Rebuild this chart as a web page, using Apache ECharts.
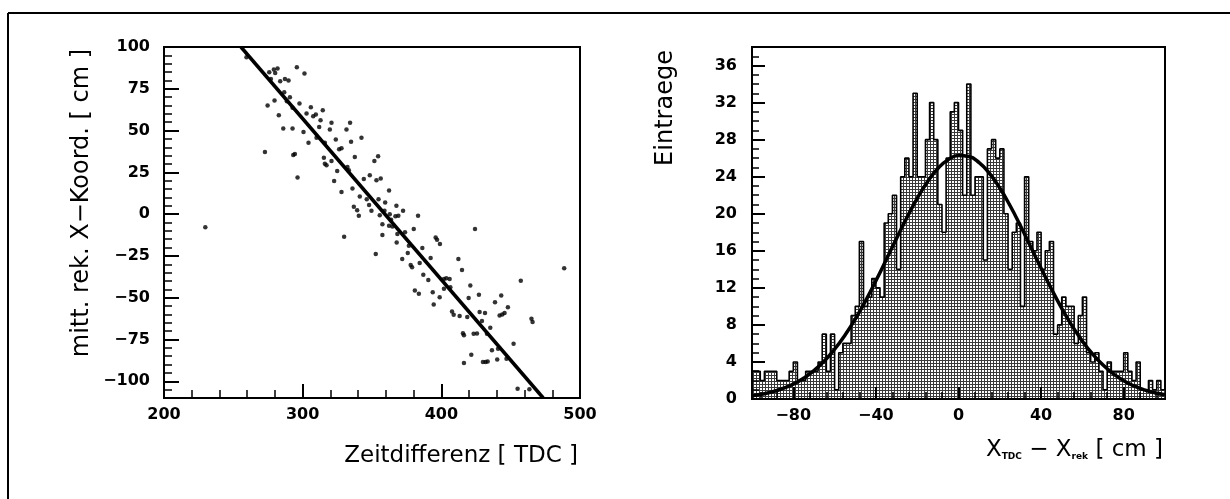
<!DOCTYPE html>
<html><head><meta charset="utf-8">
<script src="https://cdn.jsdelivr.net/npm/echarts@6/dist/echarts.min.js"></script>
<style>html,body{margin:0;padding:0;background:#fff}#c{width:1230px;height:499px}</style>
</head><body><div id="c"></div>
<script>
// ---------- Left panel: scatter of mean reconstructed X vs TDC time difference ----------
const scatterX = [259.5,275.9,279.2,281.9,280.2,277.1,283.8,287.2,289.8,295.8,301.3,286.7,290.8,288.6,279.7,274.7,292.7,297.7,305.9,302.8,307.6,309.5,314.5,312.9,320.8,334.2,282.8,286.0,292.7,311.9,319.6,331.6,300.6,304.2,310.0,316.0,323.9,334.9,342.4,272.8,293.2,294.4,315.3,320.8,326.3,328.0,316.0,317.2,324.9,332.3,337.6,351.7,354.4,296.3,322.7,328.0,333.3,335.9,344.1,348.4,353.2,356.3,362.3,341.2,346.2,336.9,339.3,340.5,347.9,349.6,355.6,359.0,362.8,366.9,367.6,229.8,357.5,362.3,364.7,
329.9,352.7,357.5,367.8,368.3,373.8,375.8,377.9,378.9,380.1,383.2,386.3,384.4,387.0,390.6,392.3,393.8,394.5,395.9,396.9,399.0,398.8,401.9,401.9,403.6,406.0,406.5,408.9,407.7,412.3,414.9,413.2,416.3,415.6,418.7,419.7,420.9,424.3,423.3,425.7,427.1,427.6,429.3,431.5,432.9,435.3,436.5,438.7,440.3,442.0,443.2,443.9,445.6,448.0,430.0,431.9,433.4,421.6,416.3,
457.3,452.1,465.0,465.8,488.6,455.0,463.5,447.0,440.9,354.7,359.5,363.8,372.4,369.0,376.6,371.8,380.9,383.8];
const scatterY = [93.8,84.9,86.5,87.1,84.5,80.9,79.5,80.9,79.9,87.9,84.1,73.0,70.0,67.6,68.0,65.0,63.6,66.2,64.0,60.2,58.6,59.6,62.2,56.2,54.7,54.7,59.2,51.3,51.3,52.1,50.7,50.7,49.1,42.7,45.7,42.7,44.7,43.3,45.7,37.2,35.4,36.0,33.8,31.8,38.8,39.4,30.2,29.2,25.8,28.2,34.2,31.8,34.6,21.9,19.9,13.3,26.2,15.3,21.1,23.3,20.3,21.3,14.1,10.5,8.9,4.4,2.4,-1.0,5.4,2.0,-0.6,2.0,0.0,-1.2,5.0,-7.8,-6.0,-7.0,-7.4,
-13.5,-23.9,-12.5,-16.9,-11.9,-10.9,-23.3,-30.4,-31.8,-8.9,-1.0,-20.3,-29.2,-36.2,-39.4,-26.2,-46.7,-54.1,-13.9,-15.3,-17.9,-49.7,-38.8,-44.7,-38.4,-38.8,-43.7,-60.2,-58.2,-26.8,-33.4,-61.0,-72.5,-71.2,-61.6,-50.1,-42.7,-8.9,-71.6,-71.4,-48.3,-58.6,-64.0,-59.2,-71.6,-68.0,-81.5,-52.7,-86.9,-60.6,-48.7,-60.0,-59.2,-55.7,-88.5,-88.5,-88.1,-84.1,-89.1,
-39.8,-77.5,-62.6,-64.6,-32.4,-104.4,-104.8,-86.5,-80.5,8.9,7.0,-3.4,2.0,-1.0,-18.9,-26.8,-45.7,-47.7];
const fitLineX = [255.5, 473.5];
const fitLineY = [100, -110];
const leftXTicks = [200, 300, 400, 500];
const leftYTicks = [-100, -75, -50, -25, 0, 25, 50, 75, 100];

// ---------- Right panel: histogram of X_TDC - X_rek ----------
const histStart = -100;
const histBinWidth = 2;
const histCounts = [3,3,2,3,3,3,2,2,2,3,4,2,2,3,3,3,4,7,3,7,1,5,6,6,9,10,17,10,11,13,12,11,19,20,22,14,24,26,24,33,24,24,28,32,28,21,18,26,31,32,29,22,34,22,24,24,15,27,28,26,27,20,14,18,19,10,24,17,16,18,14,16,17,7,8,11,10,10,6,9,11,5,4,5,3,1,4,3,3,3,5,3,2,4,1,1,2,1,2,1];
const gaussX = [-100,-95,-90,-85,-80,-75,-70,-65,-60,-55,-50,-45,-40,-35,-30,-25,-20,-15,-10,-5,0,5,10,15,20,25,30,35,40,45,50,55,60,65,70,75,80,85,90,95,100];
const gaussY = [0.35,0.53,0.78,1.14,1.61,2.25,3.07,4.10,5.37,6.88,8.63,10.6,12.76,15.03,17.34,19.58,21.66,23.46,24.88,25.84,26.28,26.17,25.52,24.36,22.78,20.86,18.70,16.41,14.11,11.88,9.79,7.90,6.25,4.83,3.66,2.72,1.98,1.41,0.98,0.67,0.45];
const rightXTicks = [-80, -40, 0, 40, 80];
const rightXMinorTicks = [-96,-88,-72,-64,-56,-48,-32,-24,-16,-8,8,16,24,32,48,56,64,72,88,96];
const rightYTicks = [0, 4, 8, 12, 16, 20, 24, 28, 32, 36];

// ---------- build ----------
const scatterData = scatterX.map((x, i) => [x, scatterY[i]]);
const fitLineData = fitLineX.map((x, i) => [x, fitLineY[i]]);
const histData = histCounts.map((c, i) => [histStart + i * histBinWidth, c]);
histData.push([histStart + histCounts.length * histBinWidth, histCounts[histCounts.length - 1]]);
const gaussData = gaussX.map((x, i) => [x, gaussY[i]]);

// stipple pattern for the histogram fill
const pat = document.createElement('canvas');
pat.width = 3; pat.height = 3;
const pctx = pat.getContext('2d');
pctx.fillStyle = '#fff'; pctx.fillRect(0, 0, 3, 3);
pctx.fillStyle = '#3a3a3a';
pctx.fillRect(0, 0, 3, 1);
pctx.fillRect(0, 0, 1, 3);

const minus = v => String(v).replace('-', '\u2212');
const tickFont = { color: '#000', fontFamily: 'DejaVu Sans', fontWeight: 'bold', fontSize: 16 };
const titleFont = 'DejaVu Sans';

function majorAxis(grid, pos, min, max, ticks, len, labelMargin) {
  return {
    type: 'value', gridIndex: grid, position: pos, min: min, max: max, z: 10,
    axisLine: { show: true, onZero: false, lineStyle: { color: '#000', width: 2 } },
    axisTick: { show: true, inside: true, length: len, customValues: ticks, lineStyle: { color: '#000', width: 2 } },
    axisLabel: Object.assign({ show: true, customValues: ticks, margin: labelMargin, formatter: minus }, tickFont),
    splitLine: { show: false }
  };
}
function minorAxis(grid, pos, min, max, opts, len) {
  return Object.assign({
    type: 'value', gridIndex: grid, position: pos, min: min, max: max, z: 10,
    axisLine: { show: false, onZero: false },
    axisTick: Object.assign({ show: true, inside: true, length: len, lineStyle: { color: '#000', width: 1.5 } }, opts.tick || {}),
    axisLabel: { show: false },
    splitLine: { show: false }
  }, opts.axis || {});
}

const chart = echarts.init(document.getElementById('c'), null, { renderer: 'canvas' });
chart.setOption({
  animation: false,
  backgroundColor: '#fff',
  grid: [
    { left: 164, top: 47, width: 416, height: 351, show: true, borderColor: '#000', borderWidth: 2, backgroundColor: 'transparent' },
    { left: 752, top: 47, width: 413, height: 352, show: true, borderColor: '#000', borderWidth: 2, backgroundColor: 'transparent' }
  ],
  xAxis: [
    majorAxis(0, 'bottom', 200, 500, leftXTicks, 14, 9),
    minorAxis(0, 'bottom', 200, 500, { axis: { interval: 20 } }, 8),
    majorAxis(1, 'bottom', -100, 100, rightXTicks, 12, 9),
    minorAxis(1, 'bottom', -100, 100, { tick: { customValues: rightXMinorTicks } }, 7)
  ],
  yAxis: [
    majorAxis(0, 'left', -110, 100, leftYTicks, 15, 14),
    minorAxis(0, 'left', -110, 100, { axis: { interval: 5 } }, 8),
    majorAxis(1, 'left', 0, 38, rightYTicks, 13, 15),
    minorAxis(1, 'left', 0, 38, { axis: { interval: 1 } }, 7)
  ],
  series: [
    { type: 'scatter', xAxisIndex: 0, yAxisIndex: 0, data: scatterData, symbol: 'circle', symbolSize: 4.5,
      itemStyle: { color: '#000' }, z: 3 },
    { type: 'line', xAxisIndex: 0, yAxisIndex: 0, data: fitLineData, showSymbol: false, symbol: 'none',
      lineStyle: { color: '#000', width: 3.5 }, z: 4 },
    { type: 'line', xAxisIndex: 2, yAxisIndex: 2, data: histData, step: 'end', showSymbol: false, symbol: 'none',
      lineStyle: { color: '#000', width: 1.6 },
      areaStyle: { color: { image: pat, repeat: 'repeat' }, opacity: 1 }, z: 2 },
    { type: 'line', xAxisIndex: 2, yAxisIndex: 2, data: gaussData, smooth: true, showSymbol: false, symbol: 'none',
      lineStyle: { color: '#000', width: 3.5 }, z: 5 }
  ],
  graphic: [
    { type: 'line', shape: { x1: 8, y1: 13, x2: 1230, y2: 13 }, style: { stroke: '#000', lineWidth: 2 } },
    { type: 'line', shape: { x1: 8, y1: 13, x2: 8, y2: 499 }, style: { stroke: '#000', lineWidth: 2 } },
    { type: 'text', x: 82, y: 203, rotation: Math.PI / 2,
      style: { text: 'mitt. rek. X\u2212Koord. [ cm ]', fill: '#000', font: '24px "' + titleFont + '"', align: 'center', verticalAlign: 'middle' } },
    { type: 'text', x: 578, y: 456,
      style: { text: 'Zeitdifferenz [ TDC ]', fill: '#000', font: '23px "' + titleFont + '"', align: 'right', verticalAlign: 'middle' } },
    { type: 'text', x: 666, y: 108, rotation: Math.PI / 2,
      style: { text: 'Eintraege', fill: '#000', font: '24px "' + titleFont + '"', align: 'center', verticalAlign: 'middle' } },
    { type: 'text', x: 1163, y: 450,
      style: {
        text: '{x|X}{s|TDC}{x| \u2212 X}{s|rek}{x| [ cm ]}',
        align: 'right', verticalAlign: 'middle',
        rich: {
          x: { fontFamily: titleFont, fontSize: 23, fill: '#000', color: '#000' },
          s: { fontFamily: titleFont, fontSize: 9, fontWeight: 'bold', fill: '#000', color: '#000', verticalAlign: 'bottom', padding: [12, 0, 0, 0] }
        }
      } }
  ]
});
</script>
</body></html>
